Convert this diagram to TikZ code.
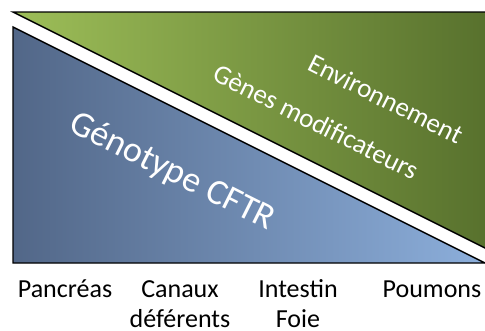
\documentclass[tikz,border=0pt]{standalone}
\usepackage{fontspec}
\setmainfont{Carlito}
\usepackage{tikz}

\definecolor{bleuG}{RGB}{82,103,136}
\definecolor{bleuD}{RGB}{142,177,222}
\definecolor{vertG}{RGB}{157,190,88}
\definecolor{vertD}{RGB}{86,111,44}

\begin{document}
\begin{tikzpicture}[x=1pt,y=-1pt,
  tri/.style={draw=black,line width=1.4pt,line join=miter},
  diag/.style={text=white,rotate=-26.565,inner sep=0pt},
  organe/.style={text=black,font=\fontsize{26}{30}\selectfont,align=center,inner sep=0pt}]
\useasboundingbox (0,0) rectangle (485,330);
% triangles
\begin{scope}
\clip (0,0) rectangle (485,330);
\draw[tri][left color=vertG,right color=vertD](13,12)--(500,12)--(500,255.5)--cycle;
\draw[tri][left color=bleuG,right color=bleuD](13,27)--(13,263)--(500,263)--(500,270.5)--cycle;
\end{scope}
% textes dans les triangles
\node[diag,font=\fontsize{36}{40}\selectfont] (geno) at (172,172) {Génotype CFTR};
\node[diag,font=\fontsize{27}{30}\selectfont] (envir) at (386,99) {Environnement};
\node[diag,font=\fontsize{27}{30}\selectfont] (genes) at (316,122) {Gènes modificateurs};
% organes
\node[organe,anchor=base] (panc) at (65,297.5) {Pancréas};
\node[organe,anchor=base] (canaux) at (180,327) {Canaux\\déférents};
\node[organe,anchor=base] (intest) at (298,327) {Intestin\\Foie};
\node[organe,anchor=base] (poum) at (432,297.5) {Poumons};
\end{tikzpicture}
\end{document}
